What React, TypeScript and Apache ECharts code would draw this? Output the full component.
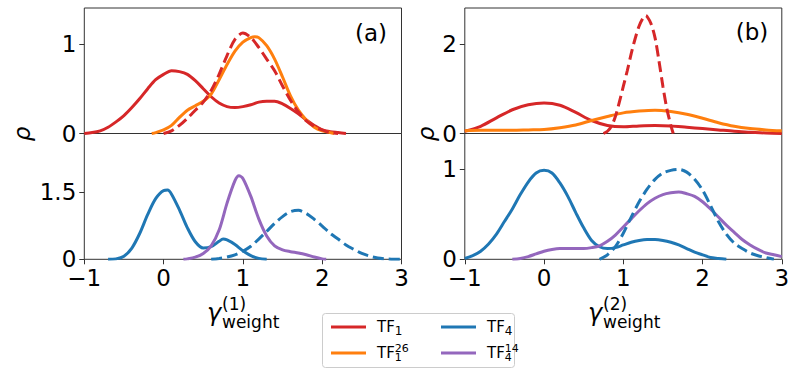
import React, { useEffect, useRef } from 'react';
import * as echarts from 'echarts';

const FONT = 'DejaVu Sans';
const RED = '#d62728';
const ORANGE = '#ff7f0e';
const BLUE = '#1f77b4';
const PURPLE = '#9467bd';

type P = [number, number];

// Panel (a), top: TF1 solid, TF1^26, TF1 dashed
const aTopTF1: P[] = [[-1.0,0.0],[-0.9,0.01],[-0.8,0.03],[-0.7,0.07],[-0.6,0.13],[-0.5,0.2],[-0.4,0.29],[-0.3,0.39],[-0.2,0.5],[-0.1,0.6],[0.0,0.66],[0.1,0.7],[0.2,0.69],[0.3,0.66],[0.4,0.59],[0.5,0.5],[0.6,0.41],[0.7,0.34],[0.8,0.3],[0.9,0.29],[1.0,0.3],[1.1,0.32],[1.2,0.35],[1.3,0.36],[1.4,0.36],[1.5,0.33],[1.6,0.28],[1.7,0.22],[1.8,0.15],[1.9,0.09],[2.0,0.04],[2.1,0.02],[2.2,0.01],[2.3,0.0]];
const aTopTF1_26: P[] = [[-0.15,0.0],[-0.1,0.01],[0.0,0.04],[0.1,0.09],[0.2,0.18],[0.3,0.26],[0.4,0.31],[0.5,0.36],[0.6,0.44],[0.7,0.6],[0.8,0.77],[0.9,0.92],[1.0,1.02],[1.1,1.07],[1.15,1.08],[1.2,1.07],[1.3,0.98],[1.4,0.83],[1.5,0.63],[1.6,0.42],[1.7,0.26],[1.8,0.15],[1.9,0.07],[2.0,0.03],[2.1,0.01],[2.15,0.0]];
const aTopTF1Dashed: P[] = [[0.0,0.0],[0.1,0.03],[0.2,0.09],[0.3,0.17],[0.4,0.26],[0.5,0.35],[0.6,0.48],[0.7,0.66],[0.8,0.87],[0.9,1.05],[1.0,1.12],[1.1,1.07],[1.2,0.96],[1.3,0.83],[1.4,0.7],[1.5,0.53],[1.6,0.37],[1.7,0.24],[1.8,0.14],[1.9,0.08],[2.0,0.04],[2.1,0.01],[2.2,0.0]];

// Panel (a), bottom: TF4 solid, TF4^14, TF4 dashed
const aBotTF4: P[] = [[-0.7,0.0],[-0.6,0.01],[-0.5,0.07],[-0.4,0.25],[-0.3,0.58],[-0.2,1.0],[-0.1,1.35],[0.0,1.53],[0.05,1.54],[0.1,1.45],[0.2,1.1],[0.3,0.7],[0.4,0.39],[0.5,0.25],[0.6,0.28],[0.7,0.4],[0.75,0.45],[0.8,0.43],[0.9,0.33],[1.0,0.19],[1.1,0.08],[1.2,0.02],[1.3,0.0]];
const aBotTF4_14: P[] = [[0.25,0.0],[0.3,0.01],[0.4,0.05],[0.5,0.13],[0.6,0.3],[0.7,0.65],[0.8,1.25],[0.9,1.75],[0.95,1.86],[1.0,1.8],[1.1,1.4],[1.2,0.9],[1.3,0.52],[1.4,0.3],[1.5,0.21],[1.6,0.17],[1.7,0.14],[1.8,0.1],[1.9,0.05],[2.0,0.01],[2.05,0.0]];
const aBotTF4Dashed: P[] = [[0.6,0.0],[0.7,0.02],[0.8,0.05],[0.9,0.1],[1.0,0.18],[1.1,0.29],[1.2,0.45],[1.3,0.62],[1.4,0.8],[1.5,0.95],[1.6,1.06],[1.7,1.09],[1.8,1.02],[1.9,0.89],[2.0,0.74],[2.1,0.58],[2.2,0.45],[2.3,0.32],[2.4,0.22],[2.5,0.13],[2.6,0.07],[2.7,0.03],[2.8,0.01],[2.9,0.0],[3.0,0.0]];

// Panel (b), top
const bTopTF1: P[] = [[-1.0,0.05],[-0.8,0.16],[-0.6,0.35],[-0.4,0.53],[-0.2,0.64],[0.0,0.68],[0.2,0.63],[0.4,0.47],[0.6,0.29],[0.8,0.18],[1.0,0.15],[1.2,0.17],[1.4,0.18],[1.6,0.17],[1.8,0.14],[2.0,0.11],[2.2,0.08],[2.4,0.05],[2.6,0.03],[2.8,0.01],[3.0,0.0]];
const bTopTF1_26: P[] = [[-1.0,0.06],[-0.8,0.07],[-0.6,0.07],[-0.4,0.07],[-0.2,0.08],[0.0,0.09],[0.2,0.13],[0.4,0.19],[0.6,0.29],[0.8,0.38],[1.0,0.46],[1.2,0.5],[1.4,0.52],[1.6,0.49],[1.8,0.43],[2.0,0.34],[2.2,0.24],[2.4,0.16],[2.6,0.11],[2.8,0.08],[3.0,0.06]];
const bTopTF1Dashed: P[] = [[0.75,0.0],[0.8,0.05],[0.85,0.16],[0.9,0.38],[0.95,0.7],[1.0,1.05],[1.05,1.4],[1.1,1.78],[1.15,2.12],[1.2,2.4],[1.25,2.58],[1.28,2.63],[1.3,2.61],[1.35,2.45],[1.4,2.14],[1.45,1.62],[1.5,1.05],[1.55,0.55],[1.6,0.18],[1.63,0.0]];

// Panel (b), bottom
const bBotTF4: P[] = [[-1.0,0.01],[-0.9,0.04],[-0.8,0.09],[-0.7,0.17],[-0.6,0.28],[-0.5,0.42],[-0.4,0.56],[-0.3,0.72],[-0.2,0.86],[-0.1,0.96],[0.0,0.99],[0.1,0.96],[0.2,0.85],[0.3,0.7],[0.4,0.52],[0.5,0.35],[0.6,0.21],[0.7,0.14],[0.8,0.12],[0.9,0.13],[1.0,0.16],[1.1,0.19],[1.2,0.21],[1.3,0.22],[1.4,0.22],[1.5,0.21],[1.6,0.19],[1.7,0.16],[1.8,0.12],[1.9,0.08],[2.0,0.05],[2.1,0.02],[2.2,0.01],[2.3,0.0]];
const bBotTF4_14: P[] = [[-0.4,0.0],[-0.3,0.01],[-0.2,0.03],[-0.1,0.06],[0.0,0.09],[0.1,0.11],[0.2,0.12],[0.3,0.12],[0.4,0.12],[0.5,0.12],[0.6,0.13],[0.7,0.15],[0.8,0.2],[0.9,0.27],[1.0,0.36],[1.1,0.45],[1.2,0.54],[1.3,0.62],[1.4,0.68],[1.5,0.72],[1.6,0.74],[1.7,0.75],[1.8,0.73],[1.9,0.7],[2.0,0.64],[2.1,0.56],[2.2,0.47],[2.3,0.38],[2.4,0.3],[2.5,0.22],[2.6,0.16],[2.7,0.11],[2.8,0.07],[2.9,0.05],[3.0,0.03]];
const bBotTF4Dashed: P[] = [[0.7,0.0],[0.8,0.05],[0.9,0.14],[1.0,0.29],[1.1,0.47],[1.2,0.64],[1.3,0.78],[1.4,0.89],[1.5,0.96],[1.6,0.99],[1.7,1.0],[1.8,0.97],[1.9,0.89],[2.0,0.77],[2.1,0.6],[2.2,0.42],[2.3,0.28],[2.4,0.18],[2.5,0.12],[2.6,0.07],[2.7,0.04],[2.8,0.02],[2.9,0.0]];

// Axis ranges and ticks
const xMin = -1;
const xMax = 3;
const xTicks = [-1, 0, 1, 2, 3];
const yMaxes = [1.4, 2.8, 2.8, 1.4]; // a-top, a-bottom, b-top, b-bottom
const yTicks = [[0, 1], [0, 1.5], [0, 2], [0, 1]];

const legendNames = ['TF1', 'TF1^26', 'TF4', 'TF4^14'];
const legendRich: Record<string, string> = {
  'TF1': 'TF{sub|1}',
  'TF1^26': 'TF{subS|1}{sup|26}',
  'TF4': 'TF{sub|4}',
  'TF4^14': 'TF{subS|4}{sup|14}',
};

const AXIS_COLOR = '#333';

function fmtTick(v: number): string {
  const s = String(Math.abs(v));
  return v < 0 ? '\u2212' + s : s;
}

function line(name: string, data: P[], color: string, idx: number, dashed = false) {
  return {
    type: 'line',
    name,
    data,
    xAxisIndex: idx,
    yAxisIndex: idx,
    showSymbol: false,
    symbol: 'none',
    smooth: 0.3,
    color,
    itemStyle: { color },
    lineStyle: { color, width: 3, type: dashed ? [11, 5] : 'solid' },
    clip: true,
  };
}

export default function App() {
  const ref = useRef<HTMLDivElement>(null);
  useEffect(() => {
    const chart = echarts.init(ref.current!, null, { renderer: 'svg' });
    const grids = [
      { left: 84.3, top: 8, width: 317.2, height: 125.5 },
      { left: 84.3, top: 133.5, width: 317.2, height: 125.8 },
      { left: 464.8, top: 8, width: 317, height: 125.5 },
      { left: 464.8, top: 133.5, width: 317, height: 125.8 },
    ].map((g) => ({ ...g, show: true, borderColor: AXIS_COLOR, borderWidth: 1, backgroundColor: 'transparent', containLabel: false }));

    const xAxes = [0, 1, 2, 3].map((i) => {
      const bottom = i === 1 || i === 3;
      return {
        type: 'value',
        gridIndex: i,
        position: 'bottom',
        min: xMin,
        max: xMax,
        interval: 1,
        axisLine: { show: false, onZero: false },
        splitLine: { show: false },
        axisTick: { show: bottom, length: 5, lineStyle: { color: AXIS_COLOR, width: 1 }, customValues: xTicks },
        axisLabel: {
          show: bottom,
          customValues: xTicks,
          formatter: (v: number) => fmtTick(v),
          fontFamily: FONT,
          fontSize: 23,
          lineHeight: 16,
          color: '#000',
          margin: 10.5,
        },
      };
    });

    const yAxes = [0, 1, 2, 3].map((i) => ({
      type: 'value',
      gridIndex: i,
      position: 'left',
      min: 0,
      max: yMaxes[i],
      axisLine: { show: false, onZero: false },
      splitLine: { show: false },
      axisTick: { show: true, length: 5, lineStyle: { color: AXIS_COLOR, width: 1 }, customValues: yTicks[i] },
      axisLabel: {
        show: true,
        customValues: yTicks[i],
        formatter: (v: number) => fmtTick(v),
        fontFamily: FONT,
        fontSize: 23,
        lineHeight: 16,
        color: '#000',
        margin: 8,
      },
    }));

    const textStyle = {
      fontFamily: FONT,
      fontSize: 15,
      color: '#000',
      lineHeight: 20,
      padding: [0, 0, 0, 6],
      rich: {
        sub: { fontFamily: FONT, fontSize: 12, lineHeight: 12, verticalAlign: 'bottom', color: '#000' },
        subS: { fontFamily: FONT, fontSize: 11, lineHeight: 9, verticalAlign: 'bottom', width: 0, color: '#000' },
        sup: { fontFamily: FONT, fontSize: 11, lineHeight: 11, verticalAlign: 'top', color: '#000' },
      },
    };

    const legendCommon = {
      orient: 'vertical',
      top: 312,
      itemWidth: 35,
      itemHeight: 3,
      itemGap: 6,
      icon: 'rect',
      selectedMode: false,
      formatter: (n: string) => legendRich[n] || n,
      textStyle,
    };

    const option = {
      animation: false,
      backgroundColor: '#fff',
      grid: grids,
      xAxis: xAxes,
      yAxis: yAxes,
      legend: [
        { ...legendCommon, left: 326, data: [legendNames[0], legendNames[1]] },
        { ...legendCommon, left: 436, data: [legendNames[2], legendNames[3]] },
      ],
      graphic: [
        { type: 'rect', z: -1, shape: { x: 322.5, y: 313.5, width: 192, height: 54, r: 3 }, style: { fill: 'rgba(255,255,255,0.8)', stroke: '#cccccc', lineWidth: 1 } },
        { type: 'text', x: 22, y: 134, rotation: Math.PI / 2, style: { text: 'ρ', fontFamily: FONT, fontStyle: 'italic', fontSize: 23, fill: '#000', align: 'center', verticalAlign: 'middle' } },
        { type: 'text', x: 426, y: 134, rotation: Math.PI / 2, style: { text: 'ρ', fontFamily: FONT, fontStyle: 'italic', fontSize: 23, fill: '#000', align: 'center', verticalAlign: 'middle' } },
        { type: 'text', x: 371, y: 33, style: { text: '(a)', fontFamily: FONT, fontSize: 23, fill: '#000', align: 'center', verticalAlign: 'middle' } },
        { type: 'text', x: 752, y: 32, style: { text: '(b)', fontFamily: FONT, fontSize: 23, fill: '#000', align: 'center', verticalAlign: 'middle' } },
        // x-axis titles
        { type: 'text', x: 207, y: 312.7, style: { text: 'γ', fontFamily: FONT, fontStyle: 'italic', fontSize: 24, fill: '#000', align: 'left', verticalAlign: 'middle' } },
        { type: 'text', x: 222, y: 304, style: { text: '(1)', fontFamily: FONT, fontSize: 17, fill: '#000', align: 'left', verticalAlign: 'middle' } },
        { type: 'text', x: 222, y: 321.5, style: { text: 'weight', fontFamily: FONT, fontSize: 17, fill: '#000', align: 'left', verticalAlign: 'middle' } },
        { type: 'text', x: 588, y: 312.7, style: { text: 'γ', fontFamily: FONT, fontStyle: 'italic', fontSize: 24, fill: '#000', align: 'left', verticalAlign: 'middle' } },
        { type: 'text', x: 603, y: 304, style: { text: '(2)', fontFamily: FONT, fontSize: 17, fill: '#000', align: 'left', verticalAlign: 'middle' } },
        { type: 'text', x: 603, y: 321.5, style: { text: 'weight', fontFamily: FONT, fontSize: 17, fill: '#000', align: 'left', verticalAlign: 'middle' } },
      ],
      series: [
        line('TF1', aTopTF1, RED, 0),
        line('TF1^26', aTopTF1_26, ORANGE, 0),
        line('TF1 dashed (a)', aTopTF1Dashed, RED, 0, true),
        line('TF4', aBotTF4, BLUE, 1),
        line('TF4^14', aBotTF4_14, PURPLE, 1),
        line('TF4 dashed (a)', aBotTF4Dashed, BLUE, 1, true),
        line('TF1', bTopTF1, RED, 2),
        line('TF1^26', bTopTF1_26, ORANGE, 2),
        line('TF1 dashed (b)', bTopTF1Dashed, RED, 2, true),
        line('TF4', bBotTF4, BLUE, 3),
        line('TF4^14', bBotTF4_14, PURPLE, 3),
        line('TF4 dashed (b)', bBotTF4Dashed, BLUE, 3, true),
      ],
    };
    chart.setOption(option as any);
    return () => chart.dispose();
  }, []);
  return <div ref={ref} style={{ position: 'fixed', left: 0, top: 0, width: 798, height: 378 }} />;
}
